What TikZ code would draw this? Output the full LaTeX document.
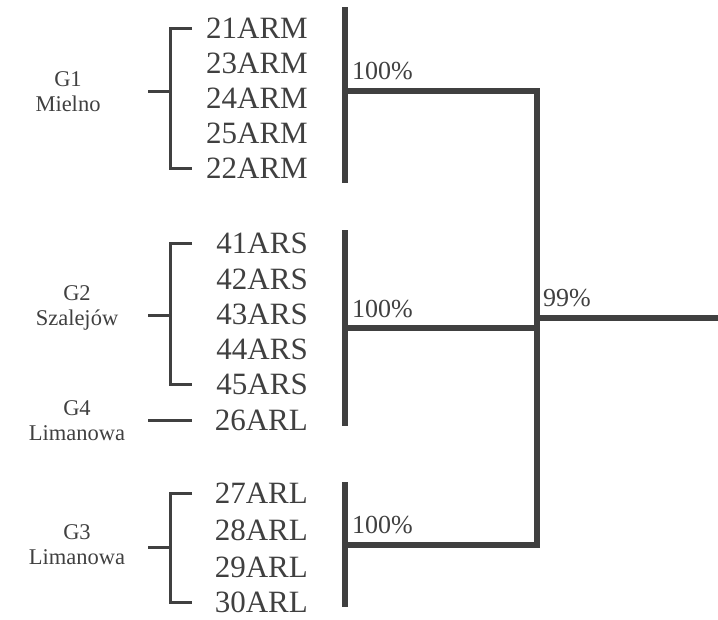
\documentclass[tikz,border=0pt]{standalone}
\usepackage{fontspec}
\setmainfont{Liberation Serif}
\usepackage{xcolor}
\definecolor{ink}{HTML}{404040}

\begin{document}
\begin{tikzpicture}[x=1pt, y=-1pt,
    strain/.style={anchor=east, inner sep=0pt, text=ink, font=\fontsize{31}{31}\selectfont},
    grp/.style={align=center, inner sep=0pt, text=ink, font=\fontsize{22.5}{25}\selectfont},
    pct/.style={anchor=base west, inner sep=0pt, text=ink, font=\fontsize{26}{26}\selectfont},
    bracket/.style={draw=ink, line width=3pt},
    bar/.style={draw=ink, line width=6pt, line join=miter}]
    \useasboundingbox (0,0) rectangle (718,619);

    \def\LabelX{308}
    \def\BarX{345}
    \def\RootX{537}

    % x positions of the brackets
    \coordinate (stub) at (148,0);
    \coordinate (brk) at (170,0);
    \coordinate (tick) at (192,0);

    % Strains: name/y
    \foreach \name/\y in {21ARM/28, 23ARM/63, 24ARM/98, 25ARM/133, 22ARM/168,
      41ARS/243, 42ARS/279, 43ARS/314, 44ARS/349, 45ARS/384, 26ARL/420,
      27ARL/493, 28ARL/530, 29ARL/567, 30ARL/602}
      \node[strain] (s\name) at (\LabelX,\y) {\name};

    % Populations
    \node[grp] (g1) at (68,92) {G1\\Mielno};
    \node[grp] (g2) at (77,308) {G2\\Szalejów};
    \node[grp] (g4) at (77,421) {G4\\Limanowa};
    \node[grp] (g3) at (77,545) {G3\\Limanowa};

    % Brackets: first strain/last strain/stub point
    \coordinate (m1) at (170,91);
    \coordinate (m2) at (170,315);
    \coordinate (m3) at (170,547);
    \foreach \top/\bot/\m in {21ARM/22ARM/m1, 41ARS/45ARS/m2, 27ARL/30ARL/m3} {
      \draw[bracket] (tick |- s\top) -- (brk |- s\top) -- (brk |- s\bot) -- (tick |- s\bot);
      \draw[bracket] (\m) -- (stub |- \m);
    }
    \draw[bracket] (stub |- s26ARL) -- (tick |- s26ARL);

    % Clusters
    \coordinate (c1t) at (\BarX,7);   \coordinate (c1b) at (\BarX,183);
    \coordinate (c2t) at (\BarX,230); \coordinate (c2b) at (\BarX,426);
    \coordinate (c3t) at (\BarX,482); \coordinate (c3b) at (\BarX,607);
    \coordinate (c1) at (\BarX,91);
    \coordinate (c2) at (\BarX,328);
    \coordinate (c3) at (\BarX,545);
    \coordinate (r1) at (\RootX,91);
    \coordinate (r2) at (\RootX,328);
    \coordinate (r3) at (\RootX,545);
    \coordinate (rt) at (\RootX,318);
    \coordinate (root) at (718,318);

    \draw[bar] (c1t) -- (c1b);
    \draw[bar] (c2t) -- (c2b);
    \draw[bar] (c3t) -- (c3b);
    \draw[bar] (c1) -- (r1) -- (r3) -- (c3);
    \draw[bar] (c2) -- (r2);
    \draw[bar] (rt) -- (root);

    % Bootstrap values
    \node[pct] (p1) at ([shift={(7,-12)}]c1) {100\%};
    \node[pct] (p2) at ([shift={(7,-11)}]c2) {100\%};
    \node[pct] (p3) at ([shift={(7,-12)}]c3) {100\%};
    \node[pct] (p4) at ([shift={(6,-12)}]rt) {99\%};
\end{tikzpicture}
\end{document}
